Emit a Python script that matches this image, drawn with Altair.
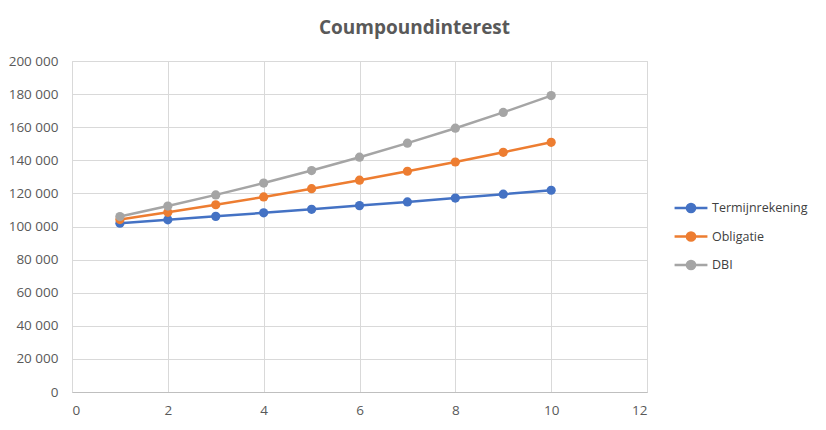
import altair as alt
import pandas as pd

years = [1, 2, 3, 4, 5, 6, 7, 8, 9, 10]
series_names = ["Termijnrekening", "Obligatie", "DBI"]
termijnrekening = [102000, 104040, 106121, 108243, 110408, 112616, 114869, 117166, 119509, 121899]
obligatie = [104200, 108576, 113136, 117888, 122840, 128000, 133375, 138977, 144814, 150897]
dbi = [106000, 112360, 119102, 126248, 133823, 141852, 150363, 159385, 168948, 179085]
colors = ["#4472C4", "#ED7D31", "#A5A5A5"]

rows = []
for name, vals in zip(series_names, [termijnrekening, obligatie, dbi]):
    for yr, v in zip(years, vals):
        rows.append({"jaar": yr, "waarde": v, "reeks": name})
df = pd.DataFrame(rows)

font = "Open Sans"
color_scale = alt.Scale(domain=series_names, range=colors)
legend_symbol = "M-3,0H3M-0.75,0A0.75,0.75 0 1,1 0.75,0A0.75,0.75 0 1,1 -0.75,0Z"

x = alt.X("jaar:Q", scale=alt.Scale(domain=[0, 12], nice=False),
          axis=alt.Axis(values=[0, 2, 4, 6, 8, 10, 12], title=None, ticks=False,
                        domainColor="#bfbfbf", labelPadding=11))
y = alt.Y("waarde:Q", scale=alt.Scale(domain=[0, 200000], nice=False),
          axis=alt.Axis(values=list(range(0, 200001, 20000)), title=None, ticks=False,
                        domain=False, labelPadding=14,
                        labelExpr="replace(format(datum.value, ',d'), /,/g, ' ')"))
color = alt.Color("reeks:N", scale=color_scale, sort=series_names,
                  legend=alt.Legend(title=None, orient="none", legendX=612, legendY=140,
                                    symbolType=legend_symbol, symbolSize=120,
                                    symbolStrokeWidth=2.5, rowPadding=8.5, labelOffset=14,
                                    labelFontSize=12.5, labelColor="#404040", labelFont=font))

base = alt.Chart(df)
lines = base.mark_line(strokeWidth=2.5).encode(x=x, y=y, color=color, detail="reeks:N")
points = base.mark_circle(size=85, opacity=1).encode(x=x, y=y, color=color)

chart = (lines + points).properties(
    width=575, height=331,
    title=alt.TitleParams("Coumpoundinterest", fontSize=19, fontWeight="bold",
                          color="#595959", font=font, anchor="middle", offset=16, dx=55),
    autosize=alt.AutoSizeParams(type="none"),
    padding={"left": 64, "top": 53, "right": 171, "bottom": 30},
).configure_axis(
    gridColor="#d9d9d9", labelColor="#595959", labelFont=font, labelFontSize=13.5,
).configure_view(stroke="#d9d9d9")

chart.save("out.html", embed_options={"renderer": "svg", "actions": False})
